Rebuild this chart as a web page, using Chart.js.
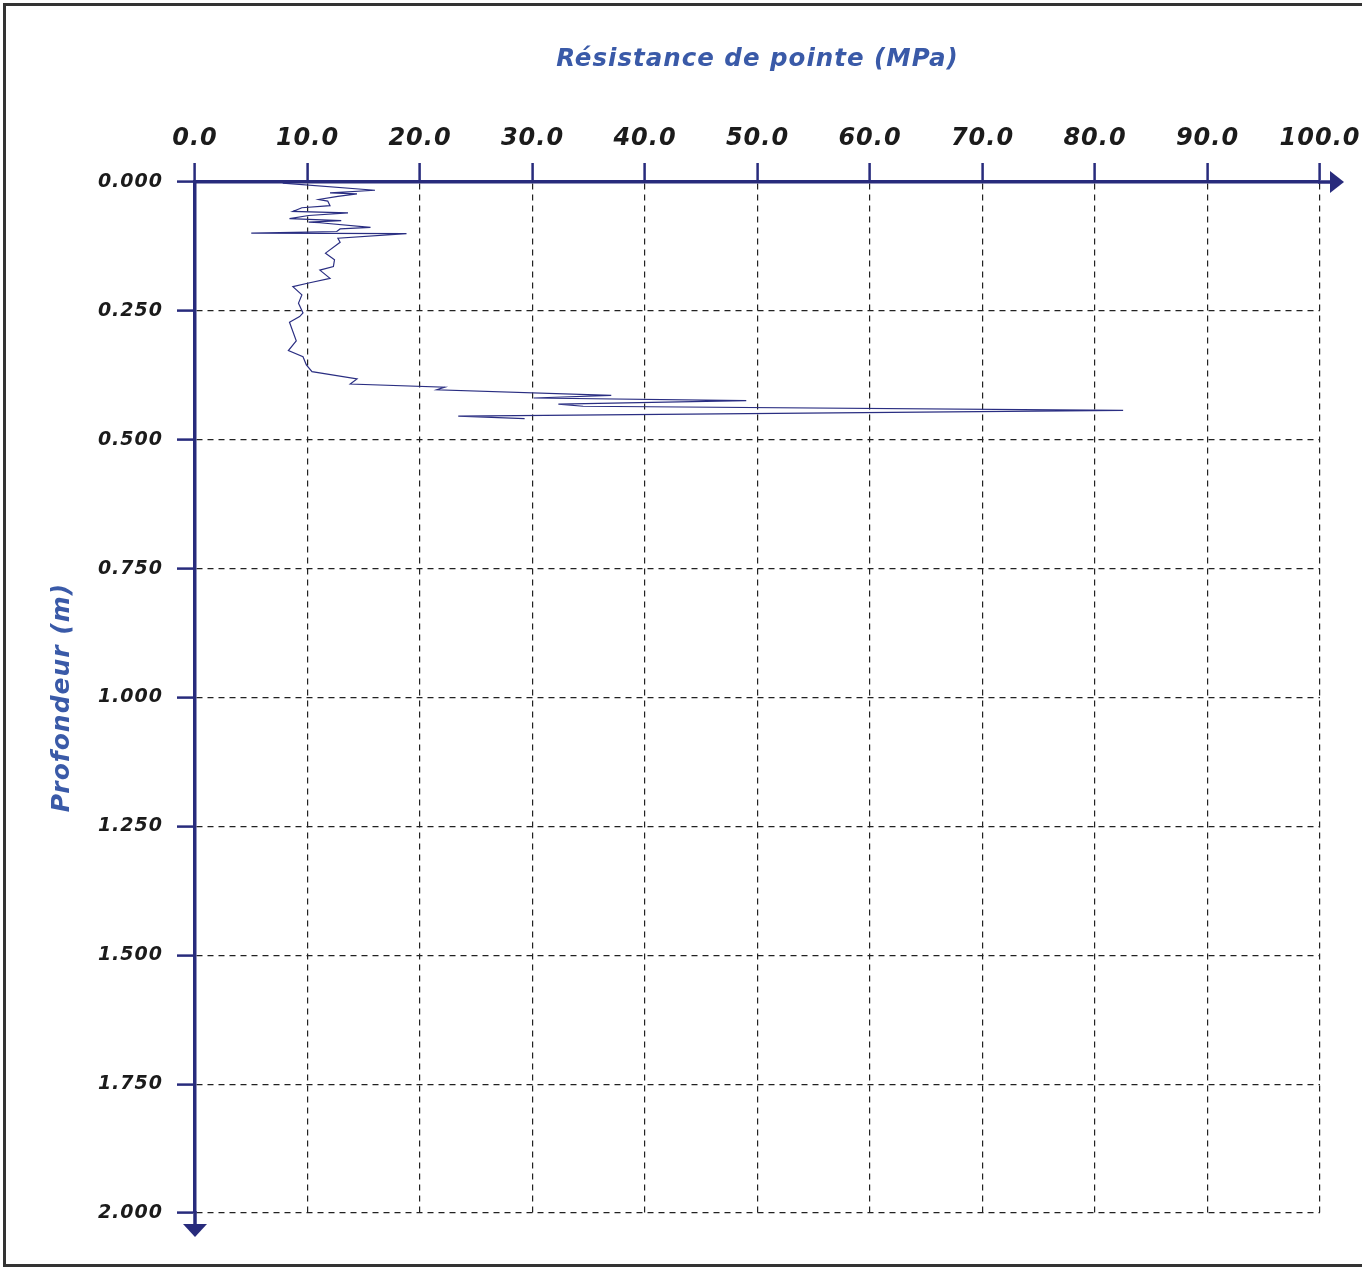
<!DOCTYPE html>
<html>
<head>
<meta charset="utf-8">
<script src="https://cdn.jsdelivr.net/npm/chart.js@4/dist/chart.umd.min.js"></script>
<style>
  html, body { margin: 0; padding: 0; background: #fff; overflow: hidden; }
  #c { display: block; }
</style>
</head>
<body>
<canvas id="c" width="1362" height="1267"></canvas>
<script>
// ---- data ----
const depthM = [0.002, 0.016, 0.021, 0.023, 0.028, 0.034, 0.037, 0.046, 0.050, 0.057,
  0.060, 0.065, 0.071, 0.075, 0.078, 0.079, 0.088, 0.091, 0.096, 0.099,
  0.100, 0.109, 0.117, 0.138, 0.151, 0.164, 0.171, 0.187, 0.196, 0.203,
  0.219, 0.235, 0.254, 0.261, 0.272, 0.308, 0.327, 0.339, 0.355, 0.368,
  0.382, 0.392, 0.398, 0.403, 0.414, 0.419, 0.424, 0.431, 0.435, 0.443,
  0.454, 0.459];
const resistanceMPa = [7.8, 16.0, 12.0, 14.4, 12.7, 11.0, 11.8, 12.0, 9.5, 8.7,
  13.6, 10.1, 8.4, 13.0, 10.1, 11.1, 15.6, 12.9, 12.6, 5.0,
  18.8, 12.7, 12.9, 11.6, 12.4, 12.3, 11.1, 12.0, 10.1, 8.7,
  9.5, 9.2, 9.6, 9.3, 8.4, 9.0, 8.3, 9.6, 9.9, 10.4,
  14.4, 13.8, 22.2, 21.5, 37.0, 30.1, 49.0, 32.3, 34.5, 82.5,
  23.4, 29.3];
const xTitle = 'Résistance de pointe (MPa)';
const yTitle = 'Profondeur (m)';
const xRange = [0, 100];
const xStep = 10;
const yRange = [0, 2];
const yStep = 0.25;

// ---- styling ----
const AXIS = '#282b7c';
const LINE = '#2a2e82';
const TITLE = '#3a5aa8';
const LABEL = '#1b1b1b';
const FAMILY = "'DejaVu Sans', 'Liberation Sans', sans-serif";

const points = depthM.map((d, i) => ({ x: resistanceMPa[i], y: d }));

const spacingPlugin = {
  id: 'spacing',
  beforeDraw(chart) { chart.ctx.letterSpacing = '1px'; },
  afterDraw(chart) { chart.ctx.letterSpacing = '0px'; }
};

const decorPlugin = {
  id: 'decor',
  afterDraw(chart) {
    const ctx = chart.ctx;
    const xs = chart.scales.x, ys = chart.scales.y;
    const x0 = xs.getPixelForValue(xRange[0]);
    const x1 = xs.getPixelForValue(xRange[1]);
    const y0 = ys.getPixelForValue(yRange[0]);
    const y1 = ys.getPixelForValue(yRange[1]);
    ctx.save();
    ctx.strokeStyle = AXIS;
    ctx.fillStyle = AXIS;
    ctx.lineWidth = 3.5;
    ctx.beginPath(); ctx.moveTo(x1 - 2, y0); ctx.lineTo(x1 + 12, y0); ctx.stroke();
    ctx.beginPath();
    ctx.moveTo(x1 + 10, y0 - 11); ctx.lineTo(x1 + 24, y0); ctx.lineTo(x1 + 10, y0 + 11);
    ctx.closePath(); ctx.fill();
    ctx.beginPath(); ctx.moveTo(x0, y1 - 2); ctx.lineTo(x0, y1 + 13); ctx.stroke();
    ctx.beginPath();
    ctx.moveTo(x0 - 12, y1 + 11); ctx.lineTo(x0, y1 + 24); ctx.lineTo(x0 + 12, y1 + 11);
    ctx.closePath(); ctx.fill();
    ctx.fillStyle = '#333333';
    ctx.fillRect(3, 3, 3, 1264);
    ctx.fillRect(3, 3, 1362, 3);
    ctx.fillRect(3, 1264, 1362, 3);
    ctx.restore();
  }
};

new Chart(document.getElementById('c'), {
  type: 'scatter',
  data: {
    datasets: [{
      data: points,
      showLine: true,
      borderColor: LINE,
      borderWidth: 1.2,
      pointRadius: 0,
      tension: 0,
      fill: false
    }]
  },
  options: {
    responsive: false,
    animation: false,
    devicePixelRatio: 1,
    layout: { padding: { left: 0, top: 0, right: 42, bottom: 54 } },
    plugins: { legend: { display: false }, tooltip: { enabled: false } },
    scales: {
      x: {
        type: 'linear',
        position: 'top',
        min: xRange[0], max: xRange[1],
        afterFit(s) { s.height = 182; s.paddingLeft = 0; s.paddingRight = 0; },
        ticks: {
          stepSize: xStep,
          autoSkip: false,
          maxRotation: 0,
          padding: 9.5,
          color: LABEL,
          font: { family: FAMILY, size: 24, style: 'italic', weight: 'bold' },
          callback: v => Number(v).toFixed(1)
        },
        grid: {
          color: '#222222',
          lineWidth: 1.2,
          drawTicks: true,
          tickLength: 19,
          tickColor: AXIS,
          tickWidth: 2.5
        },
        border: { display: true, color: AXIS, width: 3.5, dash: [6, 5] },
        title: {
          display: true,
          text: xTitle,
          color: TITLE,
          padding: { top: 45, bottom: 0 },
          font: { family: FAMILY, size: 24.5, style: 'italic', weight: 'bold' }
        }
      },
      y: {
        type: 'linear',
        position: 'left',
        reverse: true,
        min: yRange[0], max: yRange[1],
        afterFit(s) { s.width = 195; s.paddingTop = 0; s.paddingBottom = 0; },
        ticks: {
          stepSize: yStep,
          autoSkip: false,
          padding: 14,
          color: LABEL,
          font: { family: FAMILY, size: 19, style: 'italic', weight: 'bold' },
          callback: v => Number(v).toFixed(3)
        },
        grid: {
          color: '#222222',
          lineWidth: 1.2,
          drawTicks: true,
          tickLength: 18,
          tickColor: AXIS,
          tickWidth: 2.5
        },
        border: { display: true, color: AXIS, width: 3.5, dash: [6, 5] },
        title: {
          display: true,
          text: yTitle,
          color: TITLE,
          padding: { top: 47, bottom: 0 },
          font: { family: FAMILY, size: 25, style: 'italic', weight: 'bold' }
        }
      }
    }
  },
  plugins: [spacingPlugin, decorPlugin]
});
</script>
</body>
</html>
